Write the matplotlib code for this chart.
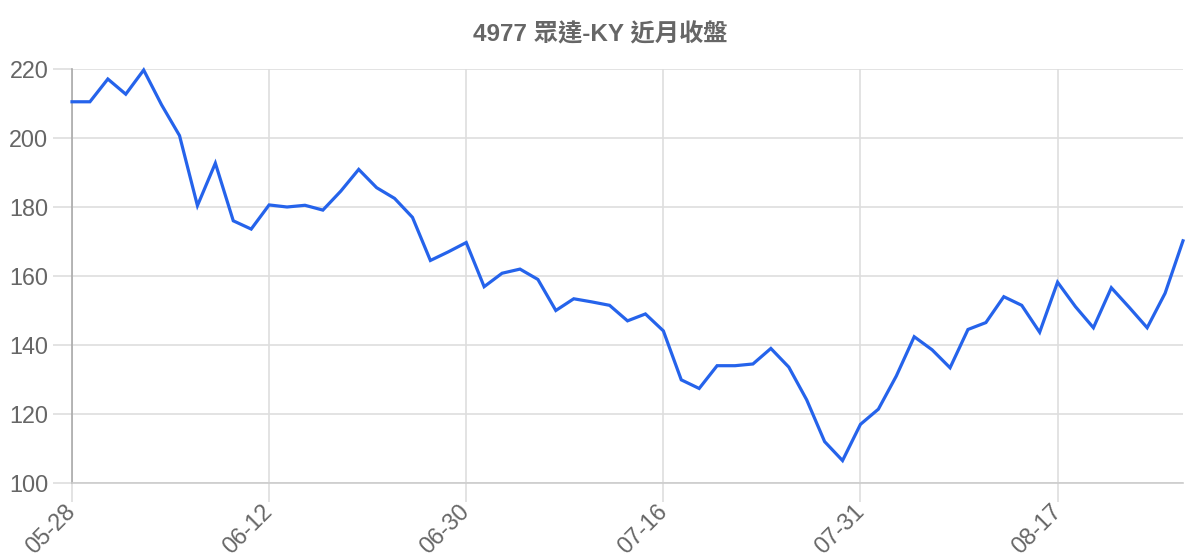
import matplotlib
matplotlib.use("Agg")
import matplotlib.pyplot as plt

title = "4977 眾達-KY 近月收盤"
tick_labels = ["05-28", "06-12", "06-30", "07-16", "07-31", "08-17"]
tick_index = [0, 11, 22, 33, 44, 55]
close = [
    210.5, 210.5, 217.1, 212.7, 219.7, 209.6, 200.7, 180.4, 192.7, 176.0,
    173.6, 180.6, 180.0, 180.5, 179.1, 184.6, 190.9, 185.6, 182.5, 177.0,
    164.5, 167.0, 169.7, 156.9, 160.8, 162.0, 159.0, 150.0, 153.4, 152.5,
    151.5, 147.0, 149.0, 144.1, 129.9, 127.4, 134.0, 134.0, 134.5, 139.0,
    133.6, 124.1, 112.0, 106.5, 117.0, 121.4, 131.0, 142.4, 138.6, 133.4,
    144.5, 146.5, 154.0, 151.5, 143.7, 158.2, 151.1, 145.0, 156.6, 150.9,
    145.0, 155.0, 170.2,
]
y_ticks = [100, 120, 140, 160, 180, 200, 220]

fig = plt.figure(figsize=(12, 5.6), dpi=100)
ax = fig.add_axes([72 / 1200, 1 - 483 / 560, (1183 - 72) / 1200, (483 - 69) / 560])

x = list(range(len(close)))
ax.plot(x, close, color="#2563eb", linewidth=2.3, solid_joinstyle="miter", clip_on=False, zorder=3)

ax.set_xlim(0, len(close) - 1)
ax.set_ylim(100, 220)
ax.set_yticks(y_ticks)
ax.set_xticks(tick_index)
ax.set_xticklabels(tick_labels, rotation=45, ha="right", va="center", rotation_mode="anchor")

grid_color = "#dedede"
ax.grid(True, color=grid_color, linewidth=1.2)
ax.set_axisbelow(True)
for s in ["top", "right"]:
    ax.spines[s].set_visible(False)
ax.spines["left"].set_color("#aaaaaa")
ax.spines["left"].set_linewidth(1.2)
ax.spines["bottom"].set_color("#cccccc")
ax.spines["bottom"].set_linewidth(1.2)

ax.tick_params(axis="y", length=14, width=1.2, color=grid_color, pad=3,
               labelsize=16.8, labelcolor="#666666")
ax.tick_params(axis="x", length=14, width=1.2, color=grid_color, pad=4,
               labelsize=16.8, labelcolor="#666666")
for lbl in ax.get_xticklabels() + ax.get_yticklabels():
    lbl.set_fontfamily(["Liberation Sans", "DejaVu Sans"])

fig.text(600 / 1200, 1 - 35 / 560, title, ha="center", va="center",
         fontsize=17.5, fontweight="bold", color="#666666",
         family=["Liberation Sans", "Noto Sans CJK TC", "DejaVu Sans"])

fig.savefig("out.png", dpi=100, facecolor="white")
